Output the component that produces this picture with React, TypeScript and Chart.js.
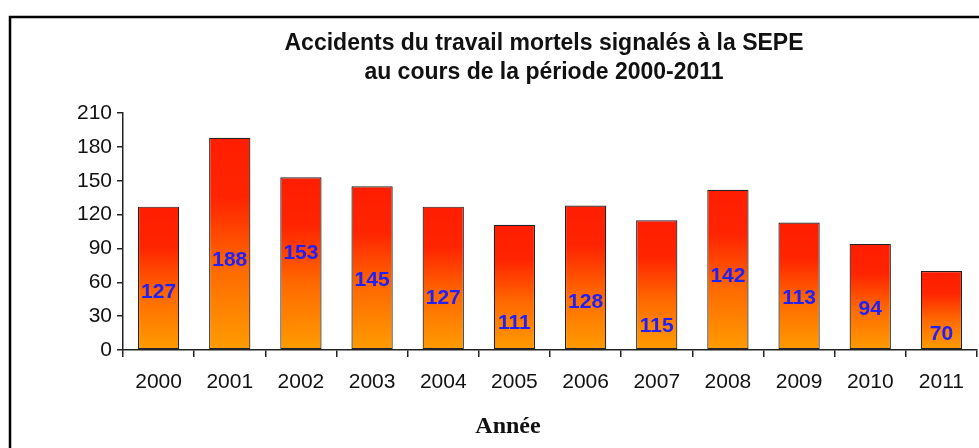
import React, { useEffect, useRef } from "react";
import { Chart, registerables } from "chart.js";

Chart.register(...registerables);

const years = ["2000", "2001", "2002", "2003", "2004", "2005", "2006", "2007", "2008", "2009", "2010", "2011"];
const accidents = [127, 188, 153, 145, 127, 111, 128, 115, 142, 113, 94, 70];
// value (in axis units) at which each data label is centred, as in the original
const labelAt = [51, 80, 86, 62, 46, 24, 42, 21, 65, 46, 36, 14];
const yTicks = [0, 30, 60, 90, 120, 150, 180, 210];
const titleLines = ["Accidents du travail mortels signalés à la SEPE", "au cours de la période 2000-2011"];
const xTitle = "Année";

const decorPlugin = {
  id: "decor",
  beforeDraw(chart: any) {
    const ctx = chart.ctx;
    ctx.save();
    ctx.fillStyle = "#fff";
    ctx.fillRect(0, 0, chart.width, chart.height);
    ctx.strokeStyle = "#000";
    ctx.lineWidth = 2.5;
    ctx.strokeRect(10, 17, chart.width + 20, chart.height + 20);
    ctx.restore();
  },
  afterDraw(chart: any) {
    const ctx = chart.ctx;
    ctx.save();
    ctx.textAlign = "center";
    ctx.textBaseline = "middle";
    ctx.fillStyle = "#111";
    ctx.font = "bold 23px 'Liberation Sans', Arial, sans-serif";
    ctx.fillText(titleLines[0], 544, 44);
    ctx.fillText(titleLines[1], 544, 73);
    ctx.font = "bold 24px 'Liberation Serif', 'Times New Roman', serif";
    ctx.fillText(xTitle, 508, 427);
    // data labels
    const meta = chart.getDatasetMeta(0);
    const y = chart.scales.y;
    ctx.font = "bold 21px 'Liberation Sans', Arial, sans-serif";
    ctx.fillStyle = "#2020F8";
    meta.data.forEach((bar: any, i: number) => {
      ctx.fillText(String(accidents[i]), bar.x, y.getPixelForValue(labelAt[i]));
    });
    ctx.restore();
  },
};

export default function App() {
  const ref = useRef<HTMLCanvasElement | null>(null);
  useEffect(() => {
    document.body.style.margin = "0";
    const canvas = ref.current!;
    const chart = new Chart(canvas, {
      type: "bar",
      data: {
        labels: years,
        datasets: [
          {
            data: accidents,
            backgroundColor: (c: any) => {
              const ch = c.chart;
              const ys = ch.scales?.y;
              if (!ys || c.raw == null) return "#ff6000";
              const top = ys.getPixelForValue(c.raw);
              const bottom = ys.getPixelForValue(0);
              if (!isFinite(top) || !isFinite(bottom) || top === bottom) return "#ff6000";
              const g = ch.ctx.createLinearGradient(0, top, 0, bottom);
              g.addColorStop(0, "#FF1E00");
              g.addColorStop(0.28, "#FF2400");
              g.addColorStop(0.62, "#FF6A00");
              g.addColorStop(1, "#FF9C00");
              return g;
            },
            borderColor: "#222",
            borderWidth: 1.2,
            borderSkipped: false,
            barPercentage: 0.58,
            categoryPercentage: 1,
          },
        ],
      },
      options: {
        animation: false,
        responsive: false,
        maintainAspectRatio: false,
        layout: { padding: { left: 0, top: 113, right: 2, bottom: 0 } },
        plugins: { legend: { display: false }, title: { display: false }, tooltip: { enabled: false } },
        scales: {
          x: {
            offset: true,
            grid: { display: true, drawOnChartArea: false, drawTicks: true, tickLength: 7, tickColor: "#222", offset: true, lineWidth: 1.5 },
            border: { display: true, color: "#222", width: 1.5 },
            ticks: { color: "#111", padding: 13, font: { family: "'Liberation Sans', Arial, sans-serif", size: 21 } },
            afterFit: (s: any) => {
              s.height = 98;
            },
          },
          y: {
            min: 0,
            max: 210,
            afterBuildTicks: (s: any) => {
              s.ticks = yTicks.map((v) => ({ value: v }));
            },
            grid: { display: true, drawOnChartArea: false, drawTicks: true, tickLength: 6, tickColor: "#222", lineWidth: 1.5 },
            border: { display: true, color: "#222", width: 1.5 },
            ticks: { color: "#111", padding: 5, font: { family: "'Liberation Sans', Arial, sans-serif", size: 21 } },
            afterFit: (s: any) => {
              s.width = 123;
            },
          },
        },
      },
      plugins: [decorPlugin],
    });
    return () => chart.destroy();
  }, []);
  return <canvas ref={ref} width={979} height={448} style={{ display: "block" }} />;
}
